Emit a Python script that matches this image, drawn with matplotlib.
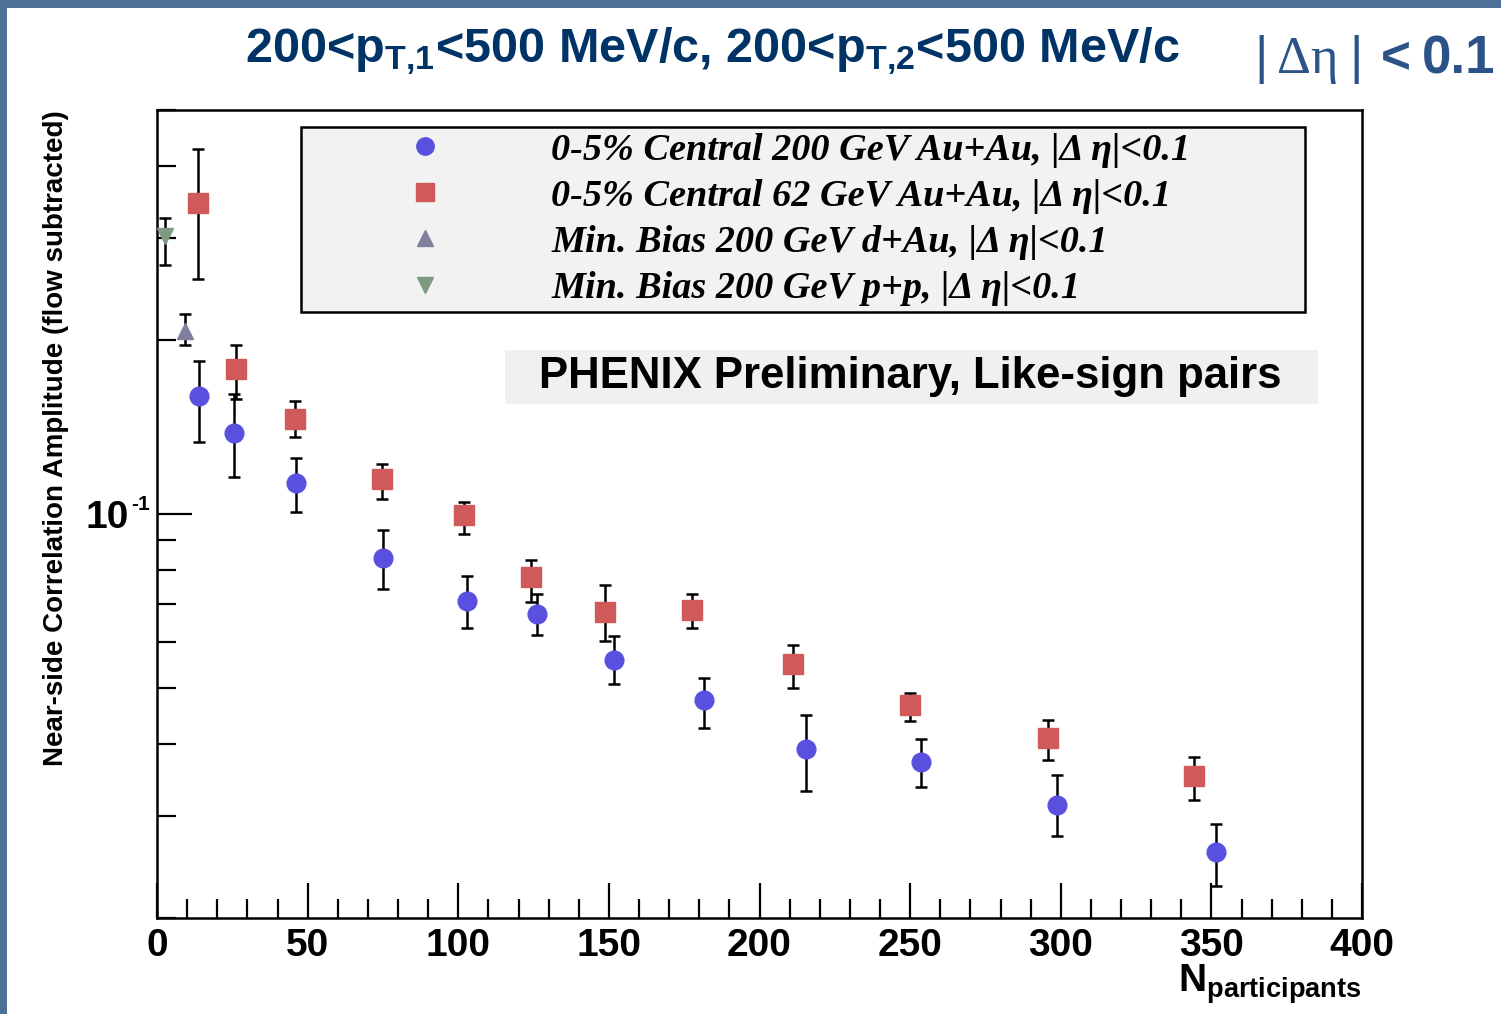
import matplotlib
matplotlib.use("Agg")
import matplotlib.pyplot as plt
from matplotlib.lines import Line2D
from matplotlib.patches import Rectangle
from matplotlib.ticker import LogLocator, NullFormatter, MultipleLocator, FuncFormatter
import matplotlib.transforms as mtransforms

plt.rcParams['font.family'] = ['Liberation Sans', 'DejaVu Sans']
plt.rcParams['font.weight'] = 'bold'
plt.rcParams['mathtext.fontset'] = 'custom'
plt.rcParams['mathtext.rm'] = 'Liberation Sans:bold'
plt.rcParams['mathtext.bf'] = 'Liberation Sans:bold'
plt.rcParams['mathtext.it'] = 'Liberation Sans:bold:italic'

# 0-5% central 200 GeV Au+Au
npart_auau200 = [13.9, 25.6, 46.1, 75.0, 102.9, 126.1, 151.7, 181.6, 215.4, 253.6, 298.8, 351.5]
amp_auau200 = [0.160, 0.138, 0.113, 0.084, 0.0708, 0.0672, 0.0560, 0.0476, 0.0392, 0.0372, 0.0314, 0.0260]
hi_auau200 = [0.184, 0.161, 0.125, 0.094, 0.078, 0.0728, 0.0614, 0.0521, 0.0449, 0.0408, 0.0353, 0.0291]
lo_auau200 = [0.133, 0.116, 0.1008, 0.0743, 0.0634, 0.0618, 0.0509, 0.0426, 0.0332, 0.0337, 0.0277, 0.0227]

# 0-5% central 62 GeV Au+Au
npart_auau62 = [13.6, 26.2, 45.8, 74.7, 101.9, 124.1, 148.7, 177.6, 211.1, 250.0, 295.8, 344.2]
amp_auau62 = [0.345, 0.178, 0.146, 0.115, 0.0996, 0.0779, 0.0678, 0.0683, 0.0551, 0.0467, 0.0409, 0.0352]
hi_auau62 = [0.428, 0.196, 0.157, 0.122, 0.105, 0.0833, 0.0754, 0.0728, 0.0594, 0.0491, 0.0440, 0.0380]
lo_auau62 = [0.255, 0.158, 0.136, 0.106, 0.0924, 0.0705, 0.0602, 0.0634, 0.0499, 0.0438, 0.0375, 0.0320]

# min. bias 200 GeV d+Au and p+p
npart_dau = [9.3]
amp_dau = [0.207]
hi_dau = [0.222]
lo_dau = [0.196]

npart_pp = [2.7]
amp_pp = [0.303]
hi_pp = [0.325]
lo_pp = [0.270]

labels = ['0-5% Central 200 GeV Au+Au, |Δ η|<0.1',
          '0-5% Central 62 GeV Au+Au, |Δ η|<0.1',
          'Min. Bias 200 GeV d+Au, |Δ η|<0.1',
          'Min. Bias 200 GeV p+p, |Δ η|<0.1']

fig = plt.figure(figsize=(15.01, 10.14), dpi=100)
ax = fig.add_axes([0.1046, 0.0947, 0.8028, 0.7968])

series = [
    (npart_auau200, amp_auau200, lo_auau200, hi_auau200, 'o', '#5a50e0', 13.5),
    (npart_auau62, amp_auau62, lo_auau62, hi_auau62, 's', '#d05a5a', 14),
    (npart_dau, amp_dau, lo_dau, hi_dau, '^', '#80809e', 12),
    (npart_pp, amp_pp, lo_pp, hi_pp, 'v', '#7c9a82', 12),
]
handles = []
for x, y, lo, hi, m, c, ms in series:
    yerr = [[v - l for v, l in zip(y, lo)], [h - v for v, h in zip(y, hi)]]
    ax.errorbar(x, y, yerr=yerr, fmt=m, color=c, ms=ms, mec=c,
                ecolor='black', elinewidth=1.8, capsize=4.5, capthick=1.8, zorder=3)
    handles.append(Line2D([], [], ls='none', marker=m, color=c, mec=c, ms=ms - 1))

ax.set_yscale('log')
ax.set_xlim(0, 400)
ax.set_ylim(0.02, 0.5)

ax.xaxis.set_major_locator(MultipleLocator(50))
ax.xaxis.set_minor_locator(MultipleLocator(10))
ax.yaxis.set_major_locator(LogLocator(base=10))
ax.yaxis.set_major_formatter(FuncFormatter(lambda v, pos: '10' if abs(v - 0.1) < 1e-9 else ''))
ax.yaxis.set_minor_locator(LogLocator(base=10, subs=range(2, 10)))
ax.yaxis.set_minor_formatter(NullFormatter())
ax.tick_params(which='both', direction='in', top=False, right=False, width=1.6, labelsize=28)
ax.tick_params(which='major', length=25)
ax.tick_params(axis='x', which='major', pad=7)
ax.tick_params(axis='y', which='major', pad=20)
ax.tick_params(which='minor', length=14)
for sp in ax.spines.values():
    sp.set_linewidth(1.8)

# exponent of the 10^-1 label
ytrans = mtransforms.blended_transform_factory(ax.transAxes, ax.transData)
ax.text(-0.0215, 0.1, '-1', transform=ytrans, fontsize=15, fontweight='bold',
        ha='left', va='bottom', clip_on=False)

ax.set_xlabel(r'$\mathbf{N}_{\mathbf{participants}}$', fontsize=28, loc='right', labelpad=-1)
ax.set_ylabel('Near-side Correlation Amplitude (flow subtracted)', fontsize=20,
              fontweight='bold', loc='top', labelpad=12)

leg = ax.legend(handles, labels, loc='upper left', bbox_to_anchor=(0.1195, 0.7525, 0.8332, 0.2265),
                mode='expand', borderaxespad=0, borderpad=0.15, labelspacing=0.29,
                handlelength=6.2, handletextpad=0.2, fancybox=False, framealpha=1,
                facecolor='#f2f2f2', edgecolor='black',
                prop={'family': 'Liberation Serif', 'style': 'italic', 'weight': 'bold', 'size': 27.5})
leg.get_frame().set_linewidth(1.8)

ax.add_patch(Rectangle((0.2888, 0.636), 0.6747, 0.067, transform=ax.transAxes,
                       facecolor='#f0f0f0', edgecolor='none', zorder=4))
ax.text(0.6253, 0.6696, 'PHENIX Preliminary, Like-sign pairs', transform=ax.transAxes,
        ha='center', va='center', fontsize=31.5, fontweight='bold', zorder=5)

# slide title
navy = '#003366'
fig.text(0.475, 0.939, '200<p$_{\\mathregular{T{,}1}}$<500 MeV/c, 200<p$_{\\mathregular{T{,}2}}$<500 MeV/c',
         ha='center', va='baseline', fontsize=35, fontweight='bold', color=navy)
eta_col = '#2c5388'
fig.text(1254 / 1501, 0.928, '|', fontsize=37, fontweight='normal', color=eta_col, va='baseline')
fig.text(1277 / 1501, 0.928, 'Δη', fontsize=38, family='Liberation Serif', fontweight='normal',
         color=eta_col, va='baseline')
fig.text(1349 / 1501, 0.928, '|', fontsize=37, fontweight='normal', color=eta_col, va='baseline')
fig.text(1381 / 1501, 0.928, '<', fontsize=37, fontweight='bold', color=eta_col, va='baseline')
fig.text(1422 / 1501, 0.928, '0.1', fontsize=38, fontweight='bold', color=eta_col, va='baseline')

# slide border
border = '#4d7099'
fig.add_artist(Rectangle((0, 1 - 8 / 1014), 1, 8 / 1014, transform=fig.transFigure,
                         facecolor=border, edgecolor='none'))
fig.add_artist(Rectangle((0, 0), 7 / 1501, 1, transform=fig.transFigure,
                         facecolor=border, edgecolor='none'))

fig.savefig('out.png', dpi=100)
